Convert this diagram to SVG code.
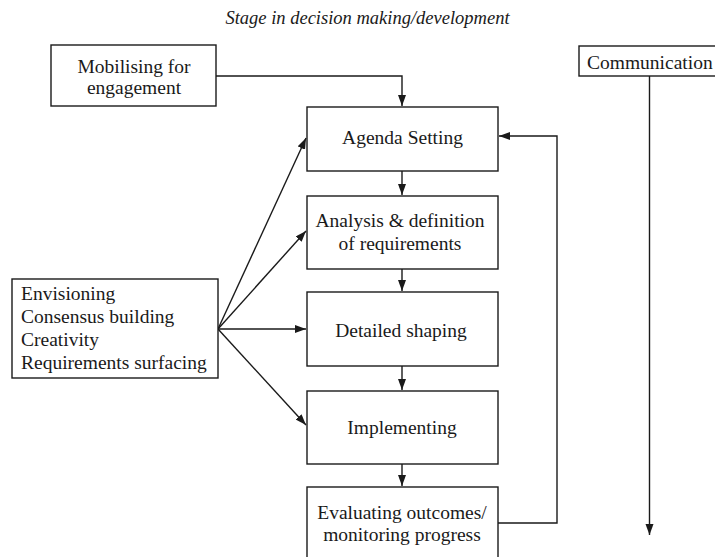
<svg xmlns="http://www.w3.org/2000/svg" width="715" height="557" viewBox="0 0 715 557">
  <style>
    .box { fill: #fff; stroke: #1a1a1a; stroke-width: 1.4; }
    .lbl { font-family: "Liberation Serif", "Times New Roman", serif; font-size: 19.5px; fill: #1a1a1a; }
    .mid { text-anchor: middle; }
    .ttl { font-family: "Liberation Serif", "Times New Roman", serif; font-size: 18.5px; font-style: italic; fill: #1a1a1a; text-anchor: middle; }
    .wire { fill: none; stroke: #1a1a1a; stroke-width: 1.4; }
  </style>
  <defs>
    <marker id="arrow" markerUnits="userSpaceOnUse" markerWidth="12" markerHeight="10" refX="11" refY="4" orient="auto">
      <path d="M0,0 L11,4 L0,8 Z" fill="#1a1a1a"/>
    </marker>
  </defs>
  <rect width="715" height="557" fill="#fff"/>

  <text class="ttl" x="367.5" y="24">Stage in decision making/development</text>

  <!-- connectors -->
  <g id="connectors">
    <path class="wire" d="M216,76 H402 V106" marker-end="url(#arrow)"/>
    <path class="wire" d="M402,171 V195" marker-end="url(#arrow)"/>
    <path class="wire" d="M402,269 V291" marker-end="url(#arrow)"/>
    <path class="wire" d="M402,366 V390" marker-end="url(#arrow)"/>
    <path class="wire" d="M402,464 V486" marker-end="url(#arrow)"/>
    <path class="wire" d="M498,523 H557 V136 H499" marker-end="url(#arrow)"/>
    <path class="wire" d="M218,329 L306,138" marker-end="url(#arrow)"/>
    <path class="wire" d="M218,329 L306,231" marker-end="url(#arrow)"/>
    <path class="wire" d="M218,329 H306" marker-end="url(#arrow)"/>
    <path class="wire" d="M218,329 L306,425" marker-end="url(#arrow)"/>
    <path class="wire" d="M649.5,76 V535" marker-end="url(#arrow)"/>
  </g>

  <g id="mobilising">
    <rect class="box" x="51" y="45" width="165" height="61"/>
    <text class="lbl mid" x="134" y="73">Mobilising for</text>
    <text class="lbl mid" x="134" y="94">engagement</text>
  </g>

  <g id="communication">
    <rect class="box" x="579" y="46" width="140" height="30"/>
    <text class="lbl" x="587" y="69">Communication</text>
  </g>

  <g id="agenda">
    <rect class="box" x="307" y="107" width="191" height="64"/>
    <text class="lbl mid" x="402.5" y="144">Agenda Setting</text>
  </g>

  <g id="analysis">
    <rect class="box" x="307" y="196" width="191" height="73"/>
    <text class="lbl mid" x="400" y="227">Analysis &amp; definition</text>
    <text class="lbl mid" x="400" y="250">of requirements</text>
  </g>

  <g id="detailed">
    <rect class="box" x="307" y="292" width="191" height="74"/>
    <text class="lbl mid" x="401" y="337">Detailed shaping</text>
  </g>

  <g id="implementing">
    <rect class="box" x="307" y="391" width="191" height="73"/>
    <text class="lbl mid" x="402" y="434">Implementing</text>
  </g>

  <g id="evaluating">
    <rect class="box" x="307" y="487" width="191" height="80"/>
    <text class="lbl mid" x="402" y="519">Evaluating outcomes/</text>
    <text class="lbl mid" x="402" y="541">monitoring progress</text>
  </g>

  <g id="envisioning">
    <rect class="box" x="12" y="279" width="206" height="99"/>
    <text class="lbl" x="21" y="300">Envisioning</text>
    <text class="lbl" x="21" y="323">Consensus building</text>
    <text class="lbl" x="21" y="346">Creativity</text>
    <text class="lbl" x="21" y="369">Requirements surfacing</text>
  </g>
</svg>
